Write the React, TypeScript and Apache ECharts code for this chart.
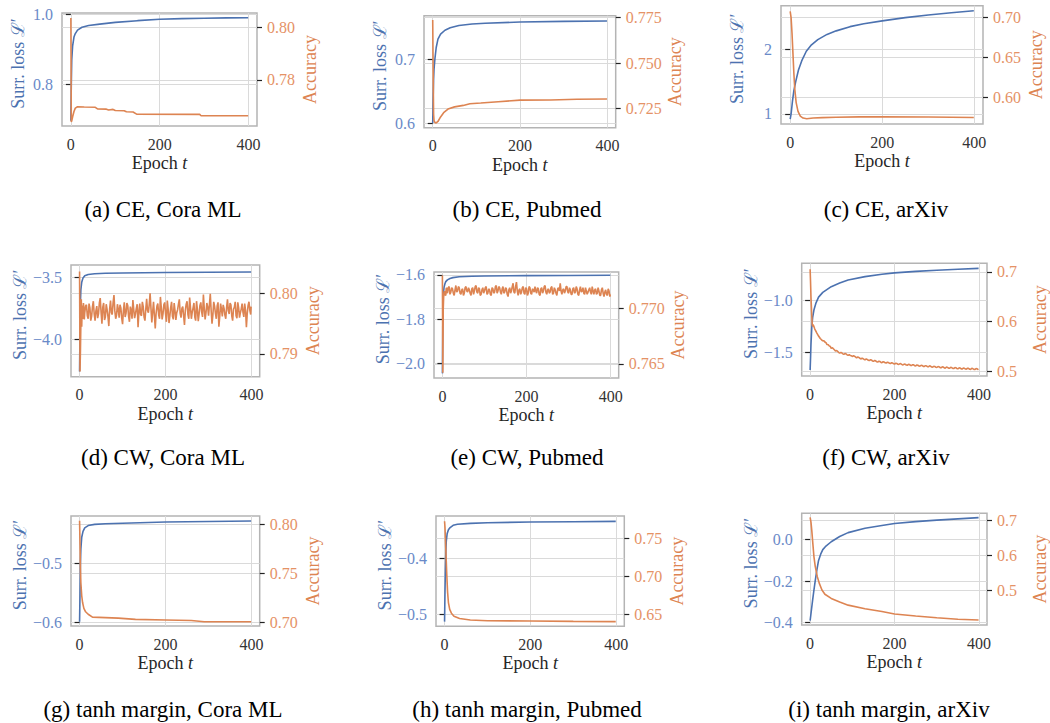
import React, { useEffect, useRef } from "react";
import * as echarts from "echarts";

const BLUE = "#4C72B0";
const ORANGE = "#DD8452";
const BLUE_TXT = "#6a8ac8";
const ORANGE_TXT = "#e59266";
const FONT = "Liberation Serif";

const X_TICKS = [0, 200, 400];

const captions = [
  "(a) CE, Cora ML",
  "(b) CE, Pubmed",
  "(c) CE, arXiv",
  "(d) CW, Cora ML",
  "(e) CW, Pubmed",
  "(f) CW, arXiv",
  "(g) tanh margin, Cora ML",
  "(h) tanh margin, Pubmed",
  "(i) tanh margin, arXiv",
];

type P = [number, number];

// (a) CE, Cora ML
const lossA: P[] = [[0, 0.695], [1, 0.8], [2, 0.87], [4, 0.91], [7, 0.935], [10, 0.945], [15, 0.955], [25, 0.963], [40, 0.968], [65, 0.972], [100, 0.977], [150, 0.982], [200, 0.986], [250, 0.988], [300, 0.989], [350, 0.99], [399, 0.9905]];
const accA: P[] = [[0, 0.8035], [1, 0.764], [2, 0.7645], [4, 0.766], [7, 0.768], [10, 0.7693], [15, 0.7698], [30, 0.7697], [55, 0.7696], [60, 0.769], [80, 0.7689], [85, 0.7686], [95, 0.7688], [100, 0.7684], [120, 0.7683], [125, 0.7679], [140, 0.7678], [148, 0.767], [290, 0.7669], [293, 0.7664], [399, 0.7664]];

// (b) CE, Pubmed
const lossB: P[] = [[0, 0.6], [1, 0.64], [2, 0.668], [3, 0.684], [5, 0.7], [8, 0.718], [12, 0.731], [18, 0.739], [28, 0.745], [40, 0.749], [60, 0.7525], [90, 0.7548], [120, 0.756], [200, 0.7578], [300, 0.7588], [399, 0.7594]];
const accB: P[] = [[0, 0.7735], [1, 0.745], [2, 0.722], [3, 0.7185], [5, 0.7175], [8, 0.7172], [12, 0.718], [18, 0.7205], [25, 0.7228], [35, 0.7248], [50, 0.726], [70, 0.7268], [85, 0.7277], [110, 0.7281], [150, 0.7288], [200, 0.7297], [270, 0.7298], [330, 0.7302], [399, 0.7303]];

// (c) CE, arXiv
const lossC: P[] = [[0, 0.92], [2, 1.0], [5, 1.2], [8, 1.36], [12, 1.5], [18, 1.68], [25, 1.82], [35, 1.97], [45, 2.06], [60, 2.15], [80, 2.23], [100, 2.285], [130, 2.35], [160, 2.395], [200, 2.44], [250, 2.49], [300, 2.53], [350, 2.565], [399, 2.595]];
const accC: P[] = [[0, 0.708], [2, 0.7], [4, 0.68], [6, 0.655], [8, 0.63], [10, 0.61], [13, 0.593], [17, 0.582], [22, 0.576], [28, 0.5735], [36, 0.5727], [50, 0.5735], [70, 0.574], [100, 0.5745], [150, 0.575], [200, 0.5752], [300, 0.5748], [399, 0.5742]];

// (d) CW, Cora ML
const lossD: P[] = [[0, -4.26], [1, -3.9], [2, -3.7], [3, -3.6], [5, -3.54], [8, -3.505], [12, -3.488], [20, -3.478], [35, -3.472], [60, -3.468], [100, -3.465], [200, -3.461], [300, -3.459], [399, -3.457]];
const accD: P[] = [
  [0, 0.8036], [1, 0.7871], [2, 0.7905], [3, 0.795], [4, 0.799], [5, 0.7945], [6, 0.798], [7, 0.7958], [8, 0.7962], [9, 0.7984], [10, 0.7975], [11, 0.7957],
  [12, 0.7968], [14, 0.7979], [16, 0.7981], [18, 0.7963], [20, 0.7958], [22, 0.7983], [24, 0.7976], [26, 0.7955], [28, 0.7962], [30, 0.7978],
  [32, 0.7987], [34, 0.7966], [36, 0.7955], [38, 0.7971], [40, 0.7979], [42, 0.7959], [44, 0.7966], [46, 0.7984], [48, 0.7992], [50, 0.7969],
  [52, 0.795], [54, 0.7977], [56, 0.7984], [58, 0.7956], [60, 0.7961], [62, 0.7982], [64, 0.7973], [66, 0.7962], [68, 0.7946], [70, 0.7975],
  [72, 0.7988], [74, 0.7968], [76, 0.7965], [78, 0.7985], [80, 0.7997], [82, 0.7971], [84, 0.7958], [86, 0.7964], [88, 0.7982], [90, 0.7974],
  [92, 0.796], [94, 0.7981], [96, 0.7976], [98, 0.7959], [100, 0.7949], [102, 0.7972], [104, 0.7985], [106, 0.7961], [108, 0.7967], [110, 0.7984],
  [112, 0.798], [114, 0.7962], [116, 0.7953], [118, 0.7978], [120, 0.7972], [122, 0.7958], [124, 0.7989], [126, 0.7973], [128, 0.7959], [130, 0.7966],
  [132, 0.7975], [134, 0.7982], [136, 0.7944], [138, 0.7969], [140, 0.7983], [142, 0.7965], [144, 0.7963], [146, 0.7986], [148, 0.7978], [150, 0.7961],
  [152, 0.7955], [154, 0.7974], [156, 0.7991], [158, 0.7972], [160, 0.7968], [162, 0.7981], [164, 0.8], [166, 0.7976], [168, 0.7952], [170, 0.7969],
  [172, 0.7986], [174, 0.7964], [176, 0.7942], [178, 0.7967], [180, 0.7979], [182, 0.7983], [184, 0.7964], [186, 0.7958], [188, 0.7994], [190, 0.7977],
  [192, 0.7957], [194, 0.7966], [196, 0.7981], [198, 0.7985], [200, 0.7966], [202, 0.7953], [204, 0.7988], [206, 0.7974], [208, 0.7951], [210, 0.7963],
  [212, 0.7977], [214, 0.7986], [216, 0.7962], [218, 0.7957], [220, 0.7984], [222, 0.7971], [224, 0.7956], [226, 0.7968], [228, 0.7973], [230, 0.7982],
  [232, 0.799], [234, 0.7967], [236, 0.796], [238, 0.7975], [240, 0.7978], [242, 0.7963], [244, 0.7948], [246, 0.7972], [248, 0.7982], [250, 0.7987],
  [252, 0.7965], [254, 0.7958], [256, 0.7993], [258, 0.7976], [260, 0.7958], [262, 0.7969], [264, 0.7976], [266, 0.7984], [268, 0.7961], [270, 0.7955],
  [272, 0.7987], [274, 0.7973], [276, 0.7954], [278, 0.7966], [280, 0.798], [282, 0.7985], [284, 0.7969], [286, 0.7961], [288, 0.7998], [290, 0.7975],
  [292, 0.7957], [294, 0.7968], [296, 0.7984], [298, 0.7977], [300, 0.7963], [302, 0.7981], [304, 0.7999], [306, 0.7972], [308, 0.795], [310, 0.7964],
  [312, 0.7986], [314, 0.7979], [316, 0.7967], [318, 0.7958], [320, 0.7979], [322, 0.7985], [324, 0.7945], [326, 0.7962], [328, 0.7983], [330, 0.7974],
  [332, 0.7962], [334, 0.7981], [336, 0.7975], [338, 0.7964], [340, 0.7958], [342, 0.7977], [344, 0.799], [346, 0.7971], [348, 0.7966], [350, 0.7984],
  [352, 0.7981], [354, 0.7963], [356, 0.7955], [358, 0.7974], [360, 0.7977], [362, 0.7986], [364, 0.7963], [366, 0.7959], [368, 0.7985], [370, 0.7976],
  [372, 0.796], [374, 0.7968], [376, 0.7974], [378, 0.7983], [380, 0.7969], [382, 0.7961], [384, 0.7983], [386, 0.7972], [388, 0.7944], [390, 0.7967],
  [392, 0.798], [394, 0.7986], [396, 0.7972], [398, 0.7965], [399, 0.7978],
];

// (e) CW, Pubmed
const lossE: P[] = [[0, -2.047], [1, -1.8], [2, -1.69], [4, -1.655], [6, -1.64], [8, -1.63], [12, -1.622], [18, -1.616], [25, -1.612], [40, -1.608], [70, -1.6055], [100, -1.6045], [200, -1.603], [300, -1.602], [399, -1.6015]];
const accE: P[] = [
  [0, 0.773], [1, 0.7642], [2, 0.77], [3, 0.7711], [5, 0.7716], [6, 0.7713], [8, 0.7712], [9, 0.7718], [10, 0.7719], [11, 0.7715], [12, 0.7714], [14, 0.7719], [16, 0.772], [18, 0.7713], [20, 0.7715],
  [22, 0.7719], [24, 0.7718], [26, 0.7714], [28, 0.7712], [30, 0.7717], [32, 0.7721], [34, 0.7715], [36, 0.7716], [38, 0.772], [40, 0.7719], [42, 0.7714], [44, 0.7713], [46, 0.7717], [48, 0.7718], [50, 0.7712],
  [52, 0.7714], [54, 0.7719], [56, 0.772], [58, 0.7716], [60, 0.7715], [62, 0.7719], [64, 0.7717], [66, 0.7714], [68, 0.7712], [70, 0.7718], [72, 0.7719], [74, 0.7713], [76, 0.7716], [78, 0.772], [80, 0.7721],
  [82, 0.7715], [84, 0.7714], [86, 0.7719], [88, 0.7718], [90, 0.7712], [92, 0.7713], [94, 0.7717], [96, 0.7719], [98, 0.7714], [100, 0.7716], [102, 0.7719], [104, 0.772], [106, 0.7713], [108, 0.7714], [110, 0.7718],
  [112, 0.7717], [114, 0.7713], [116, 0.7712], [118, 0.7719], [120, 0.7718], [122, 0.7714], [124, 0.7715], [126, 0.772], [128, 0.7721], [130, 0.7714], [132, 0.7716], [134, 0.772], [136, 0.7719], [138, 0.7715], [140, 0.7713],
  [142, 0.7718], [144, 0.772], [146, 0.7714], [148, 0.7715], [150, 0.7719], [152, 0.7718], [154, 0.7713], [156, 0.7711], [158, 0.7717], [160, 0.7719], [162, 0.7714], [164, 0.7716], [166, 0.772], [168, 0.7723], [170, 0.7715],
  [172, 0.7714], [174, 0.772], [176, 0.7724], [178, 0.7716], [180, 0.7712], [182, 0.7717], [184, 0.7718], [186, 0.7713], [188, 0.7715], [190, 0.7719], [192, 0.772], [194, 0.7714], [196, 0.7713], [198, 0.7719], [200, 0.7718],
  [202, 0.7712], [204, 0.7714], [206, 0.772], [208, 0.7719], [210, 0.7714], [212, 0.7713], [214, 0.7718], [216, 0.7717], [218, 0.7715], [220, 0.772], [222, 0.7716], [224, 0.7714], [226, 0.7719], [228, 0.7718], [230, 0.7713],
  [232, 0.7712], [234, 0.7718], [236, 0.7719], [238, 0.7714], [240, 0.7716], [242, 0.772], [244, 0.7721], [246, 0.7715], [248, 0.7713], [250, 0.7717], [252, 0.7718], [254, 0.7714], [256, 0.7715], [258, 0.7719], [260, 0.772],
  [262, 0.7713], [264, 0.7714], [266, 0.7719], [268, 0.7717], [270, 0.7714], [272, 0.7712], [274, 0.7718], [276, 0.7719], [278, 0.7716], [280, 0.7723], [282, 0.7716], [284, 0.7713], [286, 0.7717], [288, 0.7718], [290, 0.7714],
  [292, 0.7716], [294, 0.772], [296, 0.772], [298, 0.7715], [300, 0.7714], [302, 0.7719], [304, 0.7717], [306, 0.7713], [308, 0.7713], [310, 0.7718], [312, 0.7719], [314, 0.7714], [316, 0.7715], [318, 0.772], [320, 0.7718],
  [322, 0.7713], [324, 0.7712], [326, 0.7717], [328, 0.772], [330, 0.7715], [332, 0.7716], [334, 0.7719], [336, 0.7714], [338, 0.7713], [340, 0.7719], [342, 0.7716], [344, 0.7713], [346, 0.7715], [348, 0.7717], [350, 0.7719],
  [352, 0.7715], [354, 0.7713], [356, 0.772], [358, 0.7716], [360, 0.7713], [362, 0.7717], [364, 0.7718], [366, 0.7713], [368, 0.7714], [370, 0.7719], [372, 0.7716], [374, 0.7712], [376, 0.7712], [378, 0.7717], [380, 0.7719],
  [382, 0.7714], [384, 0.7711], [386, 0.7715], [388, 0.7717], [390, 0.7713], [392, 0.7712], [394, 0.7718], [396, 0.7716], [398, 0.7711], [399, 0.7713],
];

// (f) CW, arXiv
const lossF: P[] = [[0, -1.667], [1, -1.55], [2, -1.42], [4, -1.25], [6, -1.16], [9, -1.09], [14, -1.02], [20, -0.965], [30, -0.92], [50, -0.865], [70, -0.83], [90, -0.8], [130, -0.768], [170, -0.745], [200, -0.732], [250, -0.718], [300, -0.707], [350, -0.697], [399, -0.689]];
const accF: P[] = [
  [0, 0.7054], [1, 0.68], [2, 0.65], [3, 0.63], [4, 0.61], [5, 0.595], [6, 0.59], [7, 0.594], [9, 0.59], [11, 0.585], [13, 0.582], [16, 0.577],
  [20, 0.571], [24, 0.566], [27, 0.5635], [30, 0.5615], [33, 0.5612], [35, 0.559], [38, 0.5572], [40, 0.5538], [43, 0.5535], [45, 0.5512], [48, 0.5498], [50, 0.5462], [53, 0.5472], [55, 0.5455], [58, 0.5428], [60, 0.5408], [63, 0.5418], [65, 0.5402],
  [68, 0.5378], [70, 0.5365], [73, 0.5382], [75, 0.537], [78, 0.5348], [80, 0.5342], [83, 0.536], [85, 0.535], [88, 0.5328], [90, 0.5322], [93, 0.5334], [95, 0.5318], [98, 0.5312], [100, 0.5298], [103, 0.5312], [105, 0.5305], [108, 0.5284], [110, 0.527], [113, 0.5288], [115, 0.528],
  [118, 0.5262], [120, 0.5248], [123, 0.5264], [125, 0.5256], [128, 0.5238], [130, 0.5232], [133, 0.5248], [135, 0.524], [138, 0.5222], [140, 0.5215], [143, 0.5232], [145, 0.5228], [148, 0.5206], [150, 0.52], [153, 0.5218], [155, 0.5212], [158, 0.5192], [160, 0.5185], [163, 0.5204], [165, 0.5198],
  [168, 0.5178], [170, 0.5172], [173, 0.5192], [175, 0.5186], [178, 0.517], [180, 0.5165], [183, 0.5182], [185, 0.5178], [188, 0.516], [190, 0.5155], [193, 0.5172], [195, 0.5168], [198, 0.515], [200, 0.5145], [203, 0.5162], [205, 0.5158], [208, 0.5142], [210, 0.5138], [213, 0.5154], [215, 0.515],
  [218, 0.5133], [220, 0.5128], [223, 0.5146], [225, 0.5142], [228, 0.5126], [230, 0.5122], [233, 0.514], [235, 0.5136], [238, 0.5119], [240, 0.5115], [243, 0.5133], [245, 0.513], [248, 0.5112], [250, 0.5108], [253, 0.5126], [255, 0.5122], [258, 0.5106], [260, 0.5102], [263, 0.5121], [265, 0.5118],
  [268, 0.5099], [270, 0.5095], [273, 0.5113], [275, 0.511], [278, 0.5094], [280, 0.509], [283, 0.5109], [285, 0.5106], [288, 0.5086], [290, 0.5082], [293, 0.5101], [295, 0.5098], [298, 0.5082], [300, 0.5078], [303, 0.5095], [305, 0.5092], [308, 0.5074], [310, 0.507], [313, 0.5089], [315, 0.5086],
  [318, 0.5068], [320, 0.5064], [323, 0.5083], [325, 0.508], [328, 0.5063], [330, 0.506], [333, 0.5078], [335, 0.5075], [338, 0.5058], [340, 0.5055], [343, 0.5075], [345, 0.5072], [348, 0.5053], [350, 0.505], [353, 0.5069], [355, 0.5066], [358, 0.5049], [360, 0.5046], [363, 0.5065], [365, 0.5062],
  [368, 0.5045], [370, 0.5042], [373, 0.5061], [375, 0.5058], [378, 0.5041], [380, 0.5038], [383, 0.5058], [385, 0.5055], [388, 0.5038], [390, 0.5035], [393, 0.5055], [395, 0.5052], [397, 0.5036], [399, 0.504],
];

// (g) tanh margin, Cora ML
const lossG: P[] = [[0, -0.599], [1, -0.55], [2, -0.5], [3, -0.475], [5, -0.455], [8, -0.445], [12, -0.439], [20, -0.435], [35, -0.433], [60, -0.432], [100, -0.431], [200, -0.429], [300, -0.428], [399, -0.4273]];
const accG: P[] = [[0, 0.804], [1, 0.78], [2, 0.755], [3, 0.74], [5, 0.727], [7, 0.72], [10, 0.714], [14, 0.7105], [20, 0.708], [30, 0.705], [60, 0.7045], [90, 0.704], [130, 0.7027], [200, 0.7021], [260, 0.7015], [290, 0.7003], [399, 0.7002]];

// (h) tanh margin, Pubmed
const lossH: P[] = [[0, -0.513], [1, -0.46], [2, -0.42], [3, -0.39], [4, -0.37], [6, -0.357], [9, -0.35], [13, -0.346], [20, -0.342], [30, -0.34], [60, -0.3385], [100, -0.3375], [200, -0.336], [300, -0.3355], [399, -0.335]];
const accH: P[] = [[0, 0.773], [1, 0.765], [2, 0.75], [3, 0.735], [4, 0.72], [5, 0.705], [7, 0.68], [9, 0.666], [12, 0.657], [16, 0.652], [22, 0.648], [35, 0.645], [60, 0.643], [100, 0.642], [200, 0.6417], [300, 0.6412], [399, 0.6408]];

// (i) tanh margin, arXiv
const lossI: P[] = [[0, -0.39], [3, -0.34], [6, -0.29], [9, -0.243], [12, -0.2], [16, -0.145], [20, -0.1], [25, -0.07], [30, -0.048], [36, -0.034], [50, -0.01], [70, 0.015], [90, 0.034], [130, 0.055], [170, 0.068], [200, 0.078], [250, 0.087], [300, 0.094], [350, 0.1], [399, 0.106]];
const accI: P[] = [[0, 0.7085], [2, 0.695], [4, 0.67], [6, 0.64], [9, 0.597], [12, 0.57], [17, 0.54], [22, 0.52], [28, 0.502], [35, 0.49], [50, 0.478], [70, 0.468], [90, 0.459], [130, 0.449], [170, 0.441], [200, 0.434], [250, 0.428], [300, 0.423], [350, 0.419], [399, 0.4166]];

const lossSeries = [lossA, lossB, lossC, lossD, lossE, lossF, lossG, lossH, lossI];
const accSeries = [accA, accB, accC, accD, accE, accF, accG, accH, accI];

// tick values for each panel
const lossTicks = [[0.8, 1.0], [0.6, 0.7], [1, 2], [-4.0, -3.5], [-2.0, -1.8, -1.6], [-1.5, -1.0], [-0.6, -0.5], [-0.5, -0.4], [-0.4, -0.2, 0.0]];
const lossDecimals = [1, 1, 0, 1, 1, 1, 1, 1, 1];
const accTicks = [[0.78, 0.8], [0.725, 0.75, 0.775], [0.6, 0.65, 0.7], [0.79, 0.8], [0.765, 0.77], [0.5, 0.6, 0.7], [0.7, 0.75, 0.8], [0.65, 0.7, 0.75], [0.5, 0.6, 0.7]];
const accDecimals = [2, 3, 2, 2, 3, 1, 2, 2, 1];

// axis extents
const lossRange = [[0.68, 1.004], [0.5927, 0.7677], [0.845, 2.674], [-4.302, -3.401], [-2.068, -1.5864], [-1.724, -0.64], [-0.6063, -0.4187], [-0.5213, -0.3254], [-0.411, 0.127]];
const accRange = [[0.7625, 0.8054], [0.7146, 0.7759], [0.566, 0.7151], [0.78626, 0.80466], [0.76373, 0.77332], [0.4905, 0.7175], [0.6959, 0.8089], [0.6347, 0.7799], [0.4026, 0.7199]];
const X_RANGE = [-19.95, 418.95];

// layout: [left, top, width, height]
const rects = [
  [62, 13, 195, 113],
  [424, 15.7, 191.7, 112],
  [781, 5.7, 202, 118.3],
  [71, 265, 188.7, 111.7],
  [434, 272, 184.7, 106],
  [801.7, 263.3, 193, 112.7],
  [71, 516, 188.7, 110],
  [436, 516, 188.3, 110.3],
  [801.7, 513.3, 193, 111.7],
];
const captionPos = [
  [163, 209], [527, 209], [886, 209],
  [163, 457], [527, 457], [886, 457],
  [163, 709], [527, 709], [889, 709],
];

const fmt = (v: number, d: number) => {
  const s = Math.abs(v).toFixed(d);
  return (v < -1e-9 ? "\u2212" : "") + s;
};

export default function App() {
  const ref = useRef<HTMLDivElement>(null);
  useEffect(() => {
    if (!ref.current) return;
    const chart = echarts.init(ref.current, undefined, { renderer: "svg" });
    const grid: any[] = [];
    const xAxis: any[] = [];
    const yAxis: any[] = [];
    const series: any[] = [];
    const graphic: any[] = [];
    const splitLine = { show: true, lineStyle: { color: "#dadada", width: 1 } };
    lossSeries.forEach((loss, i) => {
      const r = rects[i];
      grid.push({ left: r[0], top: r[1], width: r[2], height: r[3], show: true, borderColor: "#b4b4b4", borderWidth: 1.5, backgroundColor: "transparent" });
      xAxis.push({
        type: "value", gridIndex: i, min: X_RANGE[0], max: X_RANGE[1],
        axisLine: { show: false },
        axisTick: { show: false, customValues: X_TICKS },
        axisLabel: { customValues: X_TICKS, margin: 10, fontFamily: FONT, fontSize: 16, color: "#333333" },
        splitLine,
        name: "{r|Epoch }{i|t}", nameLocation: "middle", nameGap: 28,
        nameTextStyle: {
          rich: {
            r: { fontFamily: FONT, fontSize: 18, color: "#262626" },
            i: { fontFamily: FONT, fontSize: 18, fontStyle: "italic", color: "#262626" },
          },
        },
      });
      yAxis.push({
        type: "value", gridIndex: i, position: "left", min: lossRange[i][0], max: lossRange[i][1],
        axisLine: { show: false },
        axisTick: { show: true, customValues: lossTicks[i], length: 5, lineStyle: { color: "#222", width: 1.2 } },
        axisLabel: { customValues: lossTicks[i], margin: 9, fontFamily: FONT, fontSize: 16, color: BLUE_TXT, formatter: (v: number) => fmt(v, lossDecimals[i]) },
        splitLine,
        name: "Surr. loss \u2112\u2032", nameLocation: "middle", nameRotate: 90, nameGap: 35,
        nameTextStyle: { fontFamily: FONT, fontSize: 18, color: BLUE, padding: [0, 0, 0, 12] },
      });
      yAxis.push({
        type: "value", gridIndex: i, position: "right", min: accRange[i][0], max: accRange[i][1],
        axisLine: { show: false },
        axisTick: { show: true, customValues: accTicks[i], length: 5, lineStyle: { color: "#222", width: 1.2 } },
        axisLabel: { customValues: accTicks[i], margin: 10, fontFamily: FONT, fontSize: 16, color: ORANGE_TXT, formatter: (v: number) => fmt(v, accDecimals[i]) },
        splitLine,
        name: "Accuracy", nameLocation: "middle", nameRotate: 90, nameGap: 44,
        nameTextStyle: { fontFamily: FONT, fontSize: 18, color: ORANGE },
      });
      series.push({
        type: "line", xAxisIndex: i, yAxisIndex: 2 * i, data: loss, showSymbol: false, symbol: "none",
        lineStyle: { color: BLUE, width: 1.6 }, itemStyle: { color: BLUE }, silent: true, z: 3,
      });
      series.push({
        type: "line", xAxisIndex: i, yAxisIndex: 2 * i + 1, data: accSeries[i], showSymbol: false, symbol: "none",
        lineStyle: { color: ORANGE, width: 1.6 }, itemStyle: { color: ORANGE }, silent: true, z: 4,
      });
      graphic.push({
        type: "text", x: captionPos[i][0], y: captionPos[i][1],
        style: { text: captions[i], fontFamily: FONT, fontSize: 23, fill: "#000", align: "center", verticalAlign: "middle" },
      });
    });
    chart.setOption({ animation: false, grid, xAxis, yAxis, series, graphic });
    return () => chart.dispose();
  }, []);
  return <div ref={ref} style={{ position: "absolute", left: 0, top: 0, width: 1050, height: 723, background: "#fff" }} />;
}
